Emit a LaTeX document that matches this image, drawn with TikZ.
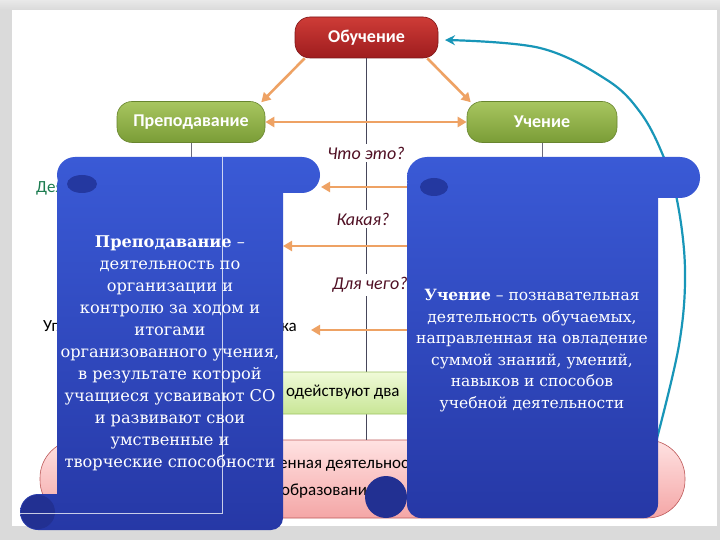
\documentclass[tikz,border=0pt]{standalone}
\usepackage{fontspec}
\newfontfamily\carl{Carlito}
\newfontfamily\dvserif{DejaVu Serif}
\usetikzlibrary{arrows.meta}
\definecolor{frameG}{RGB}{218,218,218}
\definecolor{rTop}{RGB}{206,60,55}
\definecolor{rBot}{RGB}{158,28,30}
\definecolor{gTop}{RGB}{168,198,96}
\definecolor{gBot}{RGB}{122,156,54}
\definecolor{oran}{RGB}{238,162,100}
\definecolor{lineG}{RGB}{70,70,90}
\definecolor{tealc}{RGB}{24,150,184}
\definecolor{lbl}{RGB}{80,16,36}
\definecolor{sTop}{RGB}{58,90,214}
\definecolor{sBot}{RGB}{38,56,166}
\definecolor{sDark}{RGB}{36,56,160}
\definecolor{sDarker}{RGB}{34,48,146}
\definecolor{pTop}{RGB}{255,226,226}
\definecolor{pBot}{RGB}{244,166,166}
\definecolor{pBord}{RGB}{190,90,90}
\definecolor{lgTop}{RGB}{240,250,216}
\definecolor{lgBot}{RGB}{200,230,150}
\definecolor{lgBord}{RGB}{160,196,100}
\definecolor{hidGreen}{RGB}{28,124,80}
\tikzset{
  topbox/.style={rounded corners=15, line width=0.6, minimum height=41,
    text=white, font=\carl\bfseries\fontsize{18}{21}\selectfont},
  redbox/.style={topbox, top color=rTop, bottom color=rBot, draw=rBot!80!black},
  greenbox/.style={topbox, top color=gTop, bottom color=gBot, draw=gBot!85!black},
  oarr/.style={draw=oran, line width=2.6, -{Triangle[length=9pt,width=10pt]}},
  odarr/.style={draw=oran, line width=2.6, {Triangle[length=9pt,width=10pt]}-{Triangle[length=9pt,width=10pt]}},
  qlabel/.style={fill=white, inner sep=3pt, text=lbl, font=\carl\itshape\fontsize{18}{20}\selectfont},
  hidtext/.style={inner sep=0, font=\carl\fontsize{17}{20}\selectfont},
  scrolltext/.style={text=white, align=center, inner sep=0},
}
\begin{document}
\begin{tikzpicture}[x=1pt,y=-1pt]
\useasboundingbox (0,0) rectangle (720,540);
% frame
\fill[frameG] (0,0) rectangle (720,540);
\shade[top color=frameG!60, bottom color=frameG] (0,0) rectangle (720,10);
\fill[white] (12,10) rectangle (717,526);

% ---- hidden layer (partly covered by the scrolls)
\node[hidtext, anchor=west, text=hidGreen] (hidA) at (36,188) {Деятельность};
\node[hidtext, anchor=west] (hidB) at (43,327) {Углубление};
\node[hidtext, anchor=east] (hidC) at (297,327) {ка};

\node[redbox, minimum width=143] (obuch) at (366.5,37.5) {Обучение};
\node[greenbox, minimum width=148] (prep) at (191,122) {Преподавание};
\node[greenbox, minimum width=150] (uch) at (542,122) {Учение};

\node[draw=pBord, line width=0.6, rounded corners=38, top color=pTop, bottom color=pBot,
      minimum width=645, minimum height=78] (pink) at (362.5,479) {};
\draw[lineG, line width=1.6] (obuch.south) -- (obuch.south |- pink.north);
\node[draw=lgBord, line width=0.8, rounded corners=3, top color=lgTop, bottom color=lgBot,
      minimum width=410, minimum height=42] (gbox) at (355,393) {};
\node[hidtext, anchor=west] (gtxtB) at (286,392) {одействуют два};
\node[hidtext, anchor=west] (ptxt1) at (279,466) {енная деятельность};
\node[hidtext, anchor=west] (ptxt2) at (281,491) {образования};

\draw[lineG!80, line width=1] (prep.south) -- ++(0,16);
\draw[lineG!80, line width=1] (uch.south) -- ++(0,16);

% arrows between top boxes
\draw[oarr] ([xshift=10pt]obuch.south west) -- ([xshift=-4pt,yshift=-1pt]prep.north east);
\draw[oarr] ([xshift=-11pt]obuch.south east) -- ([xshift=4pt,yshift=-1pt]uch.north west);
\draw[odarr] (prep.east) -- (uch.west);

% question labels
\node[qlabel] (q1) at (366,153) {Что это?};
\node[qlabel] (q2) at (363,219) {Какая?};
\node[qlabel] (q3) at (370,285) {Для чего?};

% horizontal orange arrows
\coordinate (a1s) at (450,187); \coordinate (a1e) at (321,187);
\coordinate (a2s) at (450,246); \coordinate (a2e) at (283,246);
\coordinate (a3s) at (450,330); \coordinate (a3e) at (311,330);
\draw[oarr] (a1s) -- (a1e);
\draw[oarr] (a2s) -- (a2e);
\draw[oarr] (a3s) -- (a3e);

% teal arc
\coordinate (tstart) at (656,442);
\draw[tealc, line width=2.2, -{Stealth[length=10pt,width=10pt]}]
  plot[smooth, tension=0.6] coordinates {(tstart) (679,345) (685,270) (677,200) (662,153) (640,112) (607,80) (540,48) (445,40)};

% ---- scrolls
% left scroll
\shade[top color=sTop, bottom color=sBot]
  [rounded corners=18] (57,157) rectangle (320,193)
  [rounded corners=12] (57,172) rectangle (283,530)
  [rounded corners=18] (20,494) rectangle (150,530);
\fill[sDark] (82,184) ellipse [x radius=15, y radius=9];
\fill[sDarker] (38,512) circle [radius=17];
\draw[white, opacity=0.75, line width=0.7] (222,157) -- (222,513) -- (20,513);
% right scroll
\shade[top color=sTop, bottom color=sBot]
  [rounded corners=20] (407,157) rectangle (700,198)
  [rounded corners=14] (407,172) rectangle (658,518);
\fill[sDark] (434,187) ellipse [x radius=14, y radius=9];
\fill[sDarker] (386,497) circle [radius=21];

% scroll texts
\node[scrolltext, font=\dvserif\fontsize{16.2}{22}\selectfont] (ltext) at (170,353) {\textbf{Преподавание} –\\деятельность по\\организации и\\контролю за ходом и\\итогами\\организованного учения,\\в результате которой\\учащиеся усваивают СО\\и развивают свои\\умственные и\\творческие способности};
\node[scrolltext, font=\dvserif\fontsize{15.5}{21.5}\selectfont] (rtext) at (532,350.5) {\textbf{Учение} – познавательная\\деятельность обучаемых,\\направленная на овладение\\суммой знаний, умений,\\навыков и способов\\учебной деятельности};
\end{tikzpicture}
\end{document}
